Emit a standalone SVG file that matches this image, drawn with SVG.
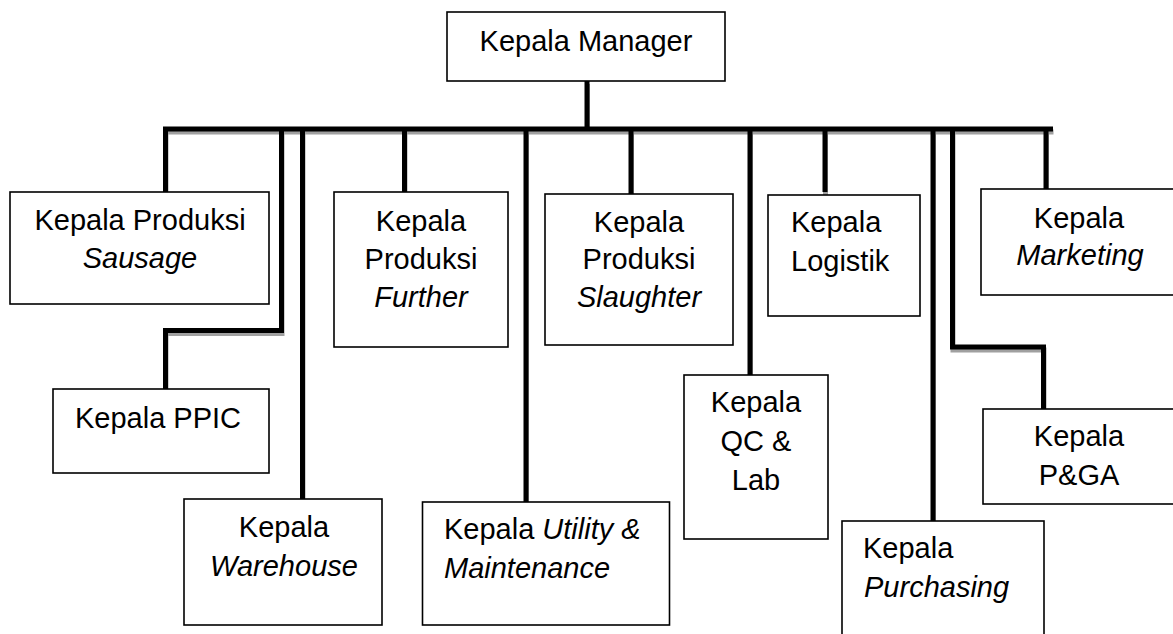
<svg xmlns="http://www.w3.org/2000/svg" width="1173" height="634" viewBox="0 0 1173 634">
<style>
.box{fill:#fff;stroke:#000;stroke-width:1.6}
.t{font-family:"Liberation Sans",Arial,sans-serif;font-size:29px;fill:#000}
.c{text-anchor:middle}
.i{font-style:italic}
.ln{fill:none;stroke:#000;stroke-width:5;stroke-linejoin:miter;stroke-linecap:butt}
.sh{fill:none;stroke:#a0a0a0;stroke-width:5;stroke-linejoin:miter}
</style>
<defs>
<g id="wires">
<path d="M587,81 V131"/>
<path d="M163,129 H1053"/>
<path d="M165.5,129 V192"/>
<path d="M281.5,129 V330.5 H165.5 V389"/>
<path d="M302.5,129 V499"/>
<path d="M404.5,129 V192"/>
<path d="M526,129 V502"/>
<path d="M631,129 V194"/>
<path d="M750,129 V375"/>
<path d="M825,129 V192"/>
<path d="M933,129 V521"/>
<path d="M952.5,129 V347 H1043.5 V409"/>
<path d="M1046,129 V189"/>
</g>
</defs>
<rect width="1173" height="634" fill="#fff"/>
<g id="connectors">
<use href="#wires" class="sh" transform="translate(0.5,3)"/>
<use href="#wires" class="ln"/>
</g>
<g id="manager"><rect class="box" x="447" y="12" width="278" height="69"/><text class="t c" x="586" y="51">Kepala Manager</text></g>
<g id="sausage"><rect class="box" x="10" y="192" width="259" height="112"/><text class="t c" x="140" y="230">Kepala Produksi</text><text class="t c i" x="140" y="268">Sausage</text></g>
<g id="ppic"><rect class="box" x="53" y="389" width="216" height="84"/><text class="t c" x="158" y="428">Kepala PPIC</text></g>
<g id="warehouse"><rect class="box" x="184" y="499" width="198" height="126"/><text class="t c" x="284" y="537">Kepala</text><text class="t c i" x="284" y="576">Warehouse</text></g>
<g id="further"><rect class="box" x="334" y="192" width="174" height="155"/><text class="t c" x="421" y="231">Kepala</text><text class="t c" x="421" y="269">Produksi</text><text class="t c i" x="421" y="307">Further</text></g>
<g id="utility"><rect class="box" x="422.5" y="502" width="247" height="123"/><text class="t" x="444" y="539">Kepala <tspan class="i">Utility &amp;</tspan></text><text class="t i" x="444" y="578">Maintenance</text></g>
<g id="slaughter"><rect class="box" x="545" y="194" width="188" height="151"/><text class="t c" x="639" y="232">Kepala</text><text class="t c" x="639" y="269">Produksi</text><text class="t c i" x="639" y="307">Slaughter</text></g>
<g id="qc"><rect class="box" x="684" y="375" width="144" height="164"/><text class="t c" x="756" y="412">Kepala</text><text class="t c" x="756" y="451">QC &amp;</text><text class="t c" x="756" y="490">Lab</text></g>
<g id="logistik"><rect class="box" x="768" y="195" width="152" height="121"/><text class="t" x="791" y="232">Kepala</text><text class="t" x="791" y="271">Logistik</text></g>
<g id="purchasing"><rect class="box" x="842" y="521" width="202" height="140"/><text class="t" x="863" y="558">Kepala</text><text class="t i" x="864" y="597">Purchasing</text></g>
<g id="marketing"><rect class="box" x="981" y="189" width="210" height="106"/><text class="t c" x="1079" y="228">Kepala</text><text class="t c i" x="1080" y="265">Marketing</text></g>
<g id="pga"><rect class="box" x="983" y="409" width="210" height="95"/><text class="t c" x="1079" y="446">Kepala</text><text class="t c" x="1079" y="485">P&amp;GA</text></g>
</svg>
